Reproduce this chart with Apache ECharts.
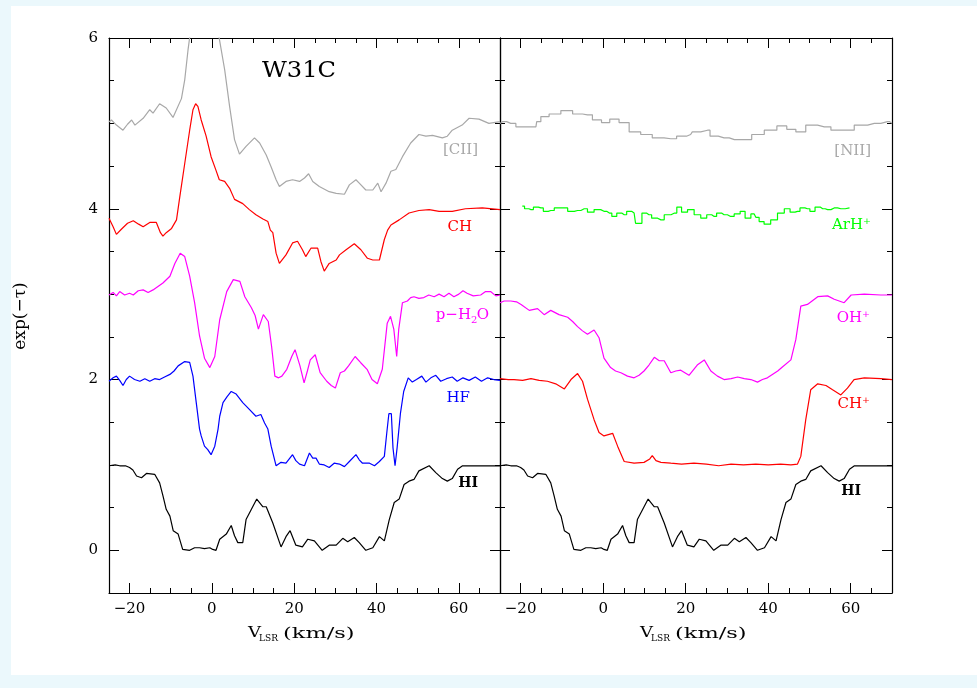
<!DOCTYPE html>
<html>
<head>
<meta charset="utf-8">
<script src="https://cdn.jsdelivr.net/npm/echarts@6/dist/echarts.min.js"></script>
<style>
  html, body { margin: 0; padding: 0; background: #ebf8fc; }
  #sheet { position: absolute; left: 11px; top: 6px; width: 966px; height: 669px; background: #fff; }
  #c { position: absolute; left: 0; top: 0; width: 977px; height: 688px; }
</style>
</head>
<body>
<div id="sheet"></div>
<div id="c"></div>
<script>
// Axis ranges and major tick values
const velRange = [-25, 70];
const tauRange = [-0.5, 6];
const xMajor = [-20, 0, 20, 40, 60];
const yMajor = [0, 2, 4, 6];

// Left panel: [velocity km/s, exp(-tau) + offset]
const cII = [[-25,5.02],[-24.4,5.04],[-23.2,4.98],[-21.6,4.92],[-20.5,4.99],[-19.5,5.04],[-18.7,4.98],[-16.7,5.06],[-15.1,5.16],[-14.3,5.12],[-12.7,5.23],[-11.1,5.18],[-9.45,5.07],[-7.4,5.29],[-6.6,5.51],[-5.8,5.86],[-5.0,6.15],[-3.5,6.4],[-1.5,6.5],[0.5,6.3],[1.7,6.02],[3.1,5.63],[4.3,5.2],[5.5,4.81],[6.7,4.64],[8.3,4.73],[10.35,4.83],[11.6,4.77],[13.2,4.63],[14.4,4.49],[15.6,4.34],[16.4,4.26],[18.0,4.32],[19.6,4.34],[21.3,4.32],[22.5,4.36],[23.5,4.41],[24.5,4.32],[26.1,4.26],[28.5,4.20],[30.2,4.18],[32.2,4.17],[33.4,4.28],[35.0,4.34],[35.8,4.30],[37.4,4.22],[39.1,4.22],[40.3,4.30],[41.1,4.20],[42.3,4.30],[43.5,4.44],[44.7,4.46],[46.3,4.61],[48.3,4.77],[50.3,4.87],[52.0,4.85],[53.6,4.86],[56.0,4.83],[57.2,4.85],[58.4,4.92],[60.8,4.98],[62.5,5.06],[64.9,5.05],[67.3,5.00],[70,5.02]];

const ch = [[-25,3.89],[-24,3.79],[-23.2,3.70],[-22,3.76],[-20.5,3.83],[-19.1,3.86],[-17.8,3.82],[-16.7,3.79],[-15.1,3.84],[-13.5,3.84],[-12.5,3.72],[-11.9,3.68],[-11.1,3.72],[-9.8,3.77],[-8.6,3.87],[-7.8,4.14],[-6.6,4.53],[-5.4,4.92],[-4.6,5.16],[-3.95,5.23],[-3.4,5.20],[-2.6,5.04],[-1.4,4.85],[-0.2,4.61],[1.0,4.45],[1.8,4.34],[3.1,4.32],[4.3,4.24],[5.5,4.11],[7.5,4.06],[9.1,3.99],[10.7,3.93],[12.4,3.88],[13.6,3.85],[14.2,3.75],[14.8,3.72],[15.6,3.48],[16.4,3.36],[18.0,3.46],[19.6,3.60],[20.8,3.62],[22.0,3.52],[22.8,3.44],[24.1,3.54],[25.7,3.54],[26.5,3.38],[27.3,3.27],[28.5,3.36],[30.2,3.40],[31.0,3.46],[32.6,3.52],[34.6,3.59],[36.2,3.52],[37.8,3.42],[39.1,3.40],[40.7,3.40],[41.9,3.64],[42.7,3.75],[43.5,3.81],[45.5,3.87],[47.9,3.95],[50.3,3.98],[52.8,3.99],[55.2,3.97],[58.4,3.97],[61.6,4.0],[65.7,4.01],[70,3.99]];

const pH2O = [[-25,2.99],[-24,3.02],[-23.2,2.98],[-22.4,3.03],[-21.2,2.99],[-20,3.01],[-19.1,2.99],[-17.9,3.04],[-16.7,3.05],[-15.5,3.02],[-14.3,3.05],[-13.1,3.09],[-11.9,3.13],[-10.2,3.21],[-9.0,3.36],[-7.7,3.48],[-6.6,3.44],[-5.4,3.21],[-4.2,2.90],[-3.0,2.51],[-1.8,2.25],[-0.5,2.14],[0.7,2.27],[1.9,2.70],[3.6,3.03],[5.2,3.17],[6.8,3.15],[8.0,2.97],[9.6,2.84],[10.5,2.75],[11.3,2.59],[12.5,2.76],[13.7,2.68],[14.5,2.39],[15.3,2.04],[16.2,2.02],[17.0,2.04],[18.2,2.12],[19.4,2.27],[20.2,2.35],[21.4,2.16],[22.4,1.96],[23.2,2.1],[23.9,2.23],[25.1,2.29],[26.3,2.08],[27.9,1.98],[29.0,1.93],[30.0,1.90],[31.2,2.08],[32.2,2.1],[33.2,2.16],[34.8,2.27],[36.1,2.20],[37.7,2.12],[38.9,2.00],[40.2,1.95],[41.4,2.12],[42.6,2.66],[43.4,2.74],[44.2,2.59],[44.9,2.27],[45.4,2.59],[46.3,2.90],[47.5,2.92],[48.3,2.96],[49.1,2.97],[50.3,2.95],[51.5,2.96],[52.7,2.99],[54.0,2.97],[55.2,3.0],[56.4,2.97],[57.6,3.01],[58.8,2.97],[60,3.0],[61,3.04],[62.0,3.01],[63.5,2.98],[65.3,2.99],[66.5,3.03],[67.7,3.03],[69,2.98],[70,2.99]];

const hf = [[-25,1.98],[-24,2.02],[-23.2,2.04],[-22.4,1.99],[-21.6,1.93],[-20.8,2.0],[-20.0,2.04],[-18.8,2.0],[-17.5,1.98],[-16.3,2.01],[-15.1,1.98],[-13.9,2.01],[-12.7,2.00],[-11.5,2.03],[-10.2,2.06],[-9.2,2.1],[-8.2,2.16],[-6.6,2.21],[-5.4,2.20],[-4.6,2.04],[-3.8,1.73],[-3.0,1.42],[-2.6,1.34],[-1.8,1.22],[-1.0,1.18],[-0.2,1.12],[0.7,1.22],[1.5,1.42],[1.9,1.57],[2.7,1.73],[3.7,1.80],[4.7,1.86],[5.9,1.83],[7.5,1.73],[9.1,1.65],[10.7,1.57],[11.9,1.59],[12.8,1.49],[13.6,1.42],[14.4,1.22],[15.6,0.99],[16.8,1.03],[18.0,1.02],[19.6,1.12],[20.4,1.05],[21.3,1.01],[22.5,0.99],[23.7,1.14],[24.5,1.08],[25.3,1.08],[26.1,1.01],[27.3,1.0],[28.5,0.97],[29.7,1.02],[31.0,1.01],[32.2,0.98],[33.4,1.04],[35.0,1.12],[35.8,1.06],[36.6,1.02],[38.3,1.02],[39.5,0.99],[40.7,1.04],[41.9,1.10],[42.5,1.38],[43.0,1.6],[43.6,1.6],[44.0,1.2],[44.5,0.99],[45.0,1.2],[45.8,1.6],[46.6,1.86],[47.7,2.02],[48.7,1.97],[49.7,2.0],[51.0,2.04],[52.0,1.97],[53.2,2.02],[54.4,2.05],[55.6,1.98],[57,2.01],[58.4,2.03],[59.6,1.98],[61,2.02],[62.5,1.99],[64,2.03],[65.5,1.98],[67,2.02],[68.5,2.0],[70,1.99]];

// HI absorption, drawn in both panels
const hI = [[-25,0.99],[-23.5,1.0],[-22.4,0.99],[-21,0.99],[-20.0,0.97],[-19.2,0.94],[-18.3,0.87],[-17.1,0.85],[-15.9,0.90],[-13.9,0.89],[-12.7,0.79],[-11.9,0.64],[-11.1,0.48],[-10.2,0.40],[-9.4,0.23],[-8.2,0.19],[-7.1,0.01],[-5.4,0.0],[-4.2,0.03],[-3.0,0.03],[-1.8,0.02],[-0.5,0.03],[0.2,0.01],[1.0,0.0],[1.9,0.13],[3.5,0.19],[4.7,0.29],[5.5,0.17],[6.3,0.09],[7.5,0.09],[8.3,0.36],[9.6,0.48],[10.9,0.60],[12.4,0.51],[13.2,0.51],[14.8,0.32],[16.8,0.04],[18.0,0.16],[19.0,0.23],[20.4,0.06],[22.0,0.04],[23.3,0.13],[24.9,0.11],[26.8,0.0],[28.5,0.06],[30.2,0.06],[31.8,0.14],[33.0,0.10],[34.6,0.15],[35.8,0.09],[37.4,0.0],[39.1,0.03],[40.7,0.16],[41.9,0.11],[43.1,0.36],[44.3,0.56],[45.5,0.60],[46.7,0.77],[47.9,0.81],[49.1,0.83],[50.3,0.93],[52.8,0.99],[54.4,0.91],[56.0,0.84],[57.2,0.81],[58.4,0.84],[59.7,0.95],[60.9,0.99],[63.3,0.99],[65.7,0.99],[70,0.99]];

// Right panel
const nII = [[-25,5.0],[-24.4,5.02],[-22.4,5.00],[-19.9,4.96],[-16.3,4.96],[-15.9,5.02],[-14.3,5.08],[-11.9,5.11],[-8.6,5.15],[-6.2,5.11],[-3.8,5.10],[-1.4,5.04],[0.6,5.01],[2.6,5.05],[5.1,5.01],[7.5,4.90],[10.7,4.87],[13.1,4.83],[16.4,4.82],[19.2,4.85],[21.2,4.87],[22.0,4.90],[25.3,4.92],[26.5,4.85],[29.3,4.83],[31.8,4.81],[34.6,4.81],[37.4,4.87],[40.7,4.92],[43.5,4.97],[45.5,4.93],[47.9,4.90],[50.3,4.98],[53.6,4.96],[56.8,4.92],[59.2,4.92],[62.5,4.98],[65.7,5.00],[68.9,5.02],[70,5.0]];

const arHp = [[-19.6,4.03],[-18.5,4.0],[-17.5,3.99],[-16.3,4.02],[-15.1,4.01],[-13.9,3.97],[-12.7,3.98],[-11,4.01],[-9.4,4.01],[-7.8,3.97],[-6.2,3.98],[-4.6,4.0],[-3.0,3.96],[-1.4,3.99],[0.2,3.97],[1.5,3.95],[2.7,3.91],[3.9,3.95],[5.1,3.93],[6.3,3.97],[7.5,3.95],[8.2,3.83],[8.9,3.83],[9.9,3.95],[11.1,3.93],[12.4,3.89],[14.0,3.87],[15.6,3.93],[17.3,3.95],[18.4,4.02],[19.6,3.96],[21.3,3.99],[22.8,3.93],[24.5,3.89],[25.7,3.93],[26.9,3.91],[28.1,3.95],[29.3,3.93],[30.9,3.91],[32.6,3.94],[33.8,3.97],[35.0,3.89],[36.6,3.94],[37.4,3.9],[38.2,3.85],[39.8,3.82],[41.4,3.87],[43.1,3.95],[44.7,4.0],[45.9,3.96],[47.1,3.97],[48.3,4.01],[49.5,4.00],[50.7,3.97],[52.0,4.02],[53.2,4.0],[54.4,3.99],[56,4.01],[57.6,4.00],[59.7,4.01]];

const ohp = [[-25,2.90],[-24,2.92],[-22.4,2.92],[-21,2.91],[-19.9,2.88],[-17.9,2.81],[-15.9,2.83],[-14.3,2.76],[-12.7,2.81],[-10.7,2.76],[-8.6,2.73],[-7.4,2.68],[-6.2,2.62],[-5,2.57],[-3.8,2.53],[-2.2,2.58],[-1.0,2.49],[0.2,2.25],[1.8,2.14],[3,2.10],[4.3,2.08],[5.9,2.04],[7.5,2.02],[8.7,2.05],[9.9,2.10],[11.1,2.17],[12.4,2.26],[13.6,2.22],[14.8,2.22],[16.4,2.08],[17.6,2.1],[18.8,2.11],[20.8,2.05],[22.8,2.17],[24.5,2.23],[26.1,2.10],[27.7,2.04],[29.3,2.00],[31,2.01],[32.6,2.03],[34.2,2.01],[35.8,2.00],[37.4,1.97],[38.6,2.0],[39.8,2.02],[42.3,2.10],[43.5,2.15],[45.5,2.23],[46.7,2.47],[47.9,2.86],[49.5,2.88],[52.0,2.97],[54.4,2.98],[56.0,2.94],[58.4,2.90],[60.1,2.99],[63.3,3.0],[67.3,2.99],[70,2.99]];

const chp = [[-25,2.01],[-23,2.0],[-21.6,2.0],[-19.5,1.99],[-17.5,2.01],[-15.5,1.99],[-13.5,1.98],[-11.5,1.95],[-9.4,1.89],[-7.8,2.0],[-6.2,2.07],[-5.0,1.98],[-3.8,1.77],[-2.2,1.53],[-1.0,1.38],[0.2,1.34],[2.3,1.37],[3.5,1.22],[5.1,1.04],[7.5,1.02],[9.9,1.03],[11.3,1.07],[11.9,1.11],[12.8,1.05],[14.0,1.03],[16.4,1.02],[19,1.01],[22,1.02],[25,1.01],[28,0.99],[31,1.01],[34,1.0],[37,1.01],[40,1.0],[43,1.01],[45.5,1.0],[47.1,1.01],[47.9,1.1],[49.1,1.53],[50.3,1.88],[52.0,1.95],[54.0,1.93],[55.6,1.88],[57.6,1.82],[59.2,1.90],[60.8,2.0],[63.3,2.02],[67.3,2.01],[70,2.0]];

const serif = 'DejaVu Serif';
const tickStyle = { color: '#000', width: 1 };

// Four x axes per panel: minor/major ticks on bottom and top frame edges
function panelXAxes(grid, withLabels) {
  const base = { type: 'value', gridIndex: grid, min: velRange[0], max: velRange[1], splitLine: { show: false } };
  const line = { show: true, onZero: false, lineStyle: { color: '#000', width: 1.2 } };
  const noLine = { show: false, onZero: false };
  return [
    Object.assign({}, base, {
      position: 'bottom', interval: 5, axisLine: line,
      axisTick: { show: true, inside: true, length: 5, lineStyle: tickStyle },
      axisLabel: { show: withLabels, customValues: xMajor, margin: 9, color: '#000',
        fontFamily: serif, fontSize: 15, formatter: v => String(v).replace('-', '\u2212') }
    }),
    Object.assign({}, base, {
      position: 'bottom', axisLine: noLine,
      axisTick: { show: true, inside: true, length: 10, customValues: xMajor, lineStyle: tickStyle },
      axisLabel: { show: false }
    }),
    Object.assign({}, base, {
      position: 'top', interval: 5, axisLine: line,
      axisTick: { show: true, inside: true, length: 5, lineStyle: tickStyle },
      axisLabel: { show: false }
    }),
    Object.assign({}, base, {
      position: 'top', axisLine: noLine,
      axisTick: { show: true, inside: true, length: 10, customValues: xMajor, lineStyle: tickStyle },
      axisLabel: { show: false }
    })
  ];
}

function panelYAxes(grid, withLabels) {
  const base = { type: 'value', gridIndex: grid, min: tauRange[0], max: tauRange[1], splitLine: { show: false } };
  const line = { show: true, onZero: false, lineStyle: { color: '#000', width: 1.2 } };
  const noLine = { show: false, onZero: false };
  return [
    Object.assign({}, base, {
      position: 'left', interval: 0.5, axisLine: line,
      axisTick: { show: true, inside: true, length: 5, lineStyle: tickStyle },
      axisLabel: { show: withLabels, customValues: yMajor, margin: 11, color: '#000',
        fontFamily: serif, fontSize: 15 }
    }),
    Object.assign({}, base, {
      position: 'left', axisLine: noLine,
      axisTick: { show: true, inside: true, length: 10, customValues: yMajor, lineStyle: tickStyle },
      axisLabel: { show: false }
    }),
    Object.assign({}, base, {
      position: 'right', interval: 0.5, axisLine: line,
      axisTick: { show: true, inside: true, length: 5, lineStyle: tickStyle },
      axisLabel: { show: false }
    }),
    Object.assign({}, base, {
      position: 'right', axisLine: noLine,
      axisTick: { show: true, inside: true, length: 10, customValues: yMajor, lineStyle: tickStyle },
      axisLabel: { show: false }
    })
  ];
}

function spectrum(data, color, panel, step) {
  return {
    type: 'line', data: data, xAxisIndex: panel * 4, yAxisIndex: panel * 4,
    showSymbol: false, clip: true, silent: true, step: step || false,
    lineStyle: { color: color, width: 1.2 }
  };
}

function text(str, x, y, color, font, align, extra) {
  return Object.assign({
    type: 'text', x: x, y: y, silent: true,
    style: { text: str, fill: color, font: font || '15px "DejaVu Serif"', align: align || 'right', verticalAlign: 'middle' }
  }, extra || {});
}

function axisTitle(x) {
  // V_LSR (km/s), with the wide letter spacing of the plotting font
  return [
    text('V', x, 633, '#000', '15px "DejaVu Serif"', 'left', { scaleX: 1.2 }),
    text('LSR', x + 11, 639, '#000', '9px "DejaVu Serif"', 'left'),
    text('(km/s)', x + 35, 634, '#000', '15px "DejaVu Serif"', 'left', { scaleX: 1.5 })
  ];
}

const chart = echarts.init(document.getElementById('c'), null, { renderer: 'canvas' });
chart.setOption({
  backgroundColor: 'transparent',
  animation: false,
  grid: [
    { left: 109, top: 38, width: 391, height: 555 },
    { left: 500, top: 38, width: 392, height: 555 }
  ],
  xAxis: panelXAxes(0, true).concat(panelXAxes(1, true)),
  yAxis: panelYAxes(0, true).concat(panelYAxes(1, false)),
  series: [
    spectrum(cII, '#a8a8a8', 0),
    spectrum(ch, '#ff0000', 0),
    spectrum(pH2O, '#ff00ff', 0),
    spectrum(hf, '#0000ff', 0),
    spectrum(hI, '#000000', 0),
    spectrum(nII, '#a8a8a8', 1, 'middle'),
    spectrum(arHp, '#00ff00', 1, 'middle'),
    spectrum(ohp, '#ff00ff', 1),
    spectrum(chp, '#ff0000', 1),
    spectrum(hI, '#000000', 1)
  ],
  graphic: [
    text('W31C', 262, 71, '#000', '23px "DejaVu Serif"', 'left', { scaleX: 1.05 }),
    text('[CII]', 478, 150, '#a8a8a8'),
    text('CH', 472, 227, '#ff0000'),
    // p-H2O with subscript 2
    text('p\u2212H', 471, 315, '#ff00ff'),
    text('2', 471, 320, '#ff00ff', '10px "DejaVu Serif"', 'left'),
    text('O', 489, 315, '#ff00ff'),
    text('HF', 470, 398, '#0000ff'),
    text('HI', 478, 483, '#000', 'bold 14px "DejaVu Serif"'),
    text('[NII]', 871, 151, '#a8a8a8'),
    text('ArH\u207A', 871, 225, '#00ff00'),
    text('OH\u207A', 870, 318, '#ff00ff'),
    text('CH\u207A', 870, 404, '#ff0000'),
    text('HI', 861, 491, '#000', 'bold 14px "DejaVu Serif"'),
    // y-axis title
    text('exp(\u2212\u03C4)', 21, 316, '#000', '17px "DejaVu Serif"', 'center', { rotation: Math.PI / 2 })
  ].concat(axisTitle(248), axisTitle(640))
});
</script>
</body>
</html>
